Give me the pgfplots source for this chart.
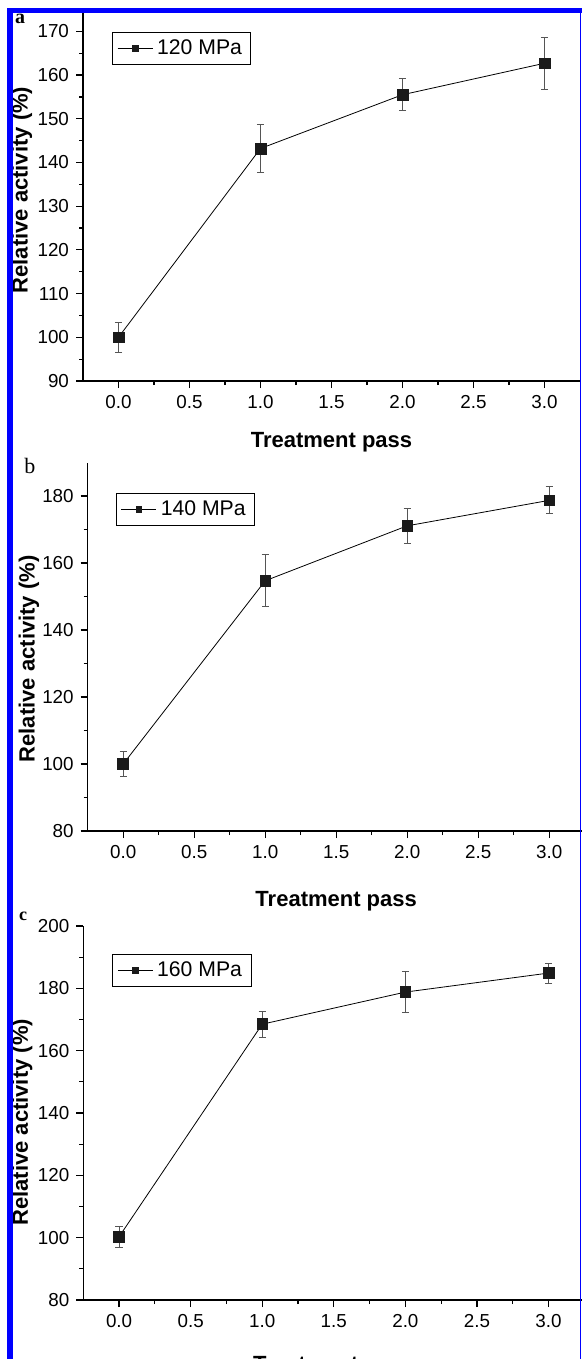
\documentclass[border=0pt]{standalone}
\usepackage{fontspec}
\setmainfont{Liberation Sans}
\newfontfamily\seriffont{Liberation Serif}
\usepackage{pgfplots}
\pgfplotsset{compat=1.18}
\definecolor{mk}{HTML}{1A1A1A}
\definecolor{eb}{HTML}{555555}
\pgfplotsset{
  panel/.style={
    scale only axis,
    anchor=south west,
    axis x line=bottom, axis y line=left,
    axis line style={-, black, line width=0.7pt},
    tick align=outside,
    major tick length=3.5pt, minor tick length=2pt,
    every tick/.style={black, line width=0.6pt},
    xmin=-0.25, xmax=3.25,
    xtick={0,0.5,...,3},
    minor x tick num=1,
    minor y tick num=1,
    x tick label style={/pgf/number format/.cd, fixed, fixed zerofill, precision=1},
    /pgf/number format/assume math mode=true,
    tick label style={font=\fontsize{9.4}{10}\selectfont},
    label style={font=\bfseries\fontsize{11}{12}\selectfont},
    xlabel={Treatment pass},
    ylabel={Relative activity (\%)},
    legend style={draw=black, line width=0.5pt, anchor=north west,
      font=\fontsize{10.6}{12}\selectfont, inner xsep=2.5pt, inner ysep=1.5pt,
      /tikz/every even column/.append style={column sep=3pt}},
    legend image code/.code={%
      \draw[#1, mark repeat=2, mark phase=2, mark size=1.4pt]
        plot coordinates {(0pt,0pt) (8.75pt,0pt) (17.5pt,0pt)};},
    clip=false,
  },
  series/.style={
    black, line width=0.4pt,
    mark=square*, mark size=2.7pt,
    mark options={fill=mk, draw=mk, line width=0.3pt},
    error bars/.cd, y dir=both, y explicit,
    error bar style={eb, line width=0.5pt},
    error mark options={rotate=90, mark size=1.8pt, eb, line width=0.5pt},
  },
}
\begin{document}
\begin{tikzpicture}
\path[use as bounding box] (0,0) rectangle (291pt,-679.5pt);
% panel a
\begin{axis}[panel, at={(41.5pt,-190.5pt)}, width=248.5pt, height=185.75pt,
  ymin=90, ymax=175, ytick={90,100,...,170},
  xlabel style={at={(axis description cs:0.5,-0.178)}, anchor=base},
  ylabel style={at={(axis description cs:-0.123,0.514)}, anchor=center},
  legend style={at={(axis description cs:0.058,0.939)}}]
\addplot[series] table[x=x, y=y, y error=e] {
x y e
0 100 3.4
1 143.2 5.6
2 155.5 3.65
3 162.7 6.0
};
\addlegendentry{120 MPa}
\end{axis}
% panel b
\begin{axis}[panel, at={(43.85pt,-415.5pt)}, width=248.5pt, height=184.25pt,
  ymin=80, ymax=190, ytick={80,100,...,180},
  xlabel style={at={(axis description cs:0.5,-0.2035)}, anchor=base},
  ylabel style={at={(axis description cs:-0.118,0.467)}, anchor=center},
  legend style={at={(axis description cs:0.056,0.918)}}]
\addplot[series] table[x=x, y=y, y error=e] {
x y e
0 100 3.6
1 154.7 7.7
2 171.1 5.3
3 178.7 4.0
};
\addlegendentry{140 MPa}
\end{axis}
% panel c
\begin{axis}[panel, at={(41.65pt,-650pt)}, width=250.5pt, height=187pt,
  ymin=80, ymax=200, ytick={80,100,...,200},
  xlabel style={at={(axis description cs:0.5,-0.19)}, anchor=base},
  ylabel style={at={(axis description cs:-0.1218,0.475)}, anchor=center},
  legend style={at={(axis description cs:0.057,0.925)}}]
\addplot[series] table[x=x, y=y, y error=e] {
x y e
0 100.3 3.4
1 168.5 4.2
2 178.8 6.7
3 184.9 3.2
};
\addlegendentry{160 MPa}
\end{axis}
% panel letters
\node[font=\seriffont\bfseries\fontsize{10}{12}\selectfont] at (10pt,-9.5pt) {a};
\node[font=\seriffont\fontsize{11}{12}\selectfont] at (15pt,-233pt) {b};
\node[font=\seriffont\bfseries\fontsize{9}{11}\selectfont] at (11.5pt,-458pt) {c};
% blue frame
\fill[blue] (3.65pt,-4.15pt) rectangle (6.65pt,-679.5pt);
\fill[blue] (3.65pt,-4.15pt) rectangle (291pt,-6.65pt);
\fill[blue] (289.8pt,-4.15pt) rectangle (290.5pt,-679.5pt);
\end{tikzpicture}
\end{document}
